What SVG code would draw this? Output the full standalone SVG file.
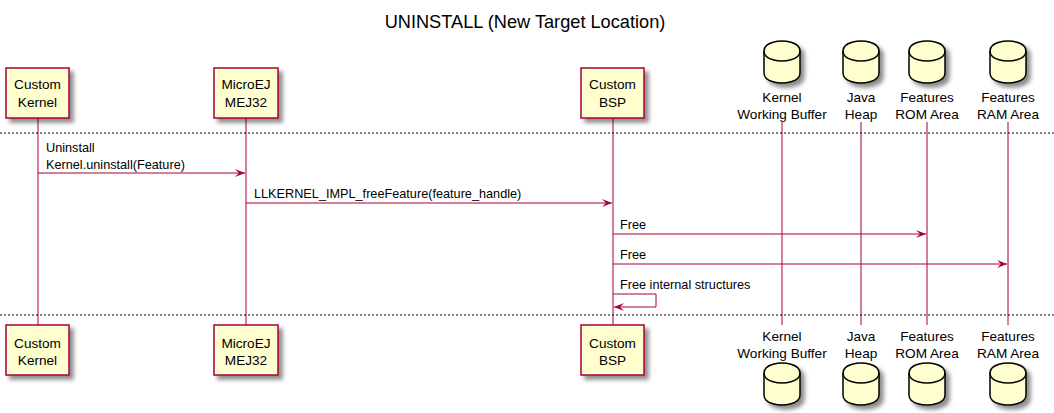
<svg xmlns="http://www.w3.org/2000/svg" width="1054" height="413" viewBox="0 0 1054 413">
<defs>
<filter id="sh" x="-20%" y="-20%" width="150%" height="150%">
<feGaussianBlur in="SourceAlpha" stdDeviation="2"/>
<feColorMatrix type="matrix" values="0 0 0 0 0  0 0 0 0 0  0 0 0 0 0  0 0 0 0.45 0"/>
<feOffset dx="4" dy="4" result="s"/>
<feMerge><feMergeNode in="s"/><feMergeNode in="SourceGraphic"/></feMerge>
</filter>
<marker id="ah" viewBox="0 0 10 8" refX="10" refY="4" markerWidth="10" markerHeight="8" markerUnits="userSpaceOnUse" orient="auto">
<polygon points="0,0 10,4 0,8 4,4" fill="#A80036"/>
</marker>
</defs>
<style>
text{font-family:"Liberation Sans",Arial,sans-serif;fill:#000}
.p{fill:#FEFECE;stroke:#A80036;stroke-width:1.5}
.db{fill:#FEFECE;stroke:#000;stroke-width:1.5}
.pt{font-size:13.6px;text-anchor:middle}
.ml{font-size:12.7px}
.life{stroke:#A80036;stroke-width:1}
.msg{stroke:#A80036;stroke-width:1;fill:none}
.sep{stroke:#000;stroke-width:1;stroke-dasharray:2,2}
</style>
<rect width="1054" height="413" fill="#fff"/>
<text x="525" y="28" style="font-size:18.2px;text-anchor:middle">UNINSTALL (New Target Location)</text>

<g id="lifelines">
<line class="life" x1="38" y1="118" x2="38" y2="325"/>
<line class="life" x1="246" y1="118" x2="246" y2="325"/>
<line class="life" x1="613" y1="118" x2="613" y2="325"/>
<line class="life" x1="782" y1="122" x2="782" y2="325"/>
<line class="life" x1="861" y1="122" x2="861" y2="325"/>
<line class="life" x1="927" y1="122" x2="927" y2="325"/>
<line class="life" x1="1008" y1="122" x2="1008" y2="325"/>
</g>

<g id="separators">
<line class="sep" x1="0" y1="133" x2="1054" y2="133"/>
<line class="sep" x1="0" y1="315" x2="1054" y2="315"/>
</g>

<g id="custom-kernel">
<rect class="p" x="6" y="68" width="63" height="50" filter="url(#sh)"/>
<text class="pt" x="37.5" y="89">Custom</text><text class="pt" x="37.5" y="107">Kernel</text>
<rect class="p" x="6" y="325" width="63" height="50" filter="url(#sh)"/>
<text class="pt" x="37.5" y="348">Custom</text><text class="pt" x="37.5" y="365">Kernel</text>
</g>

<g id="microej">
<rect class="p" x="214" y="68" width="64" height="50" filter="url(#sh)"/>
<text class="pt" x="246" y="89">MicroEJ</text><text class="pt" x="246" y="107">MEJ32</text>
<rect class="p" x="214" y="325" width="64" height="50" filter="url(#sh)"/>
<text class="pt" x="246" y="348">MicroEJ</text><text class="pt" x="246" y="365">MEJ32</text>
</g>

<g id="custom-bsp">
<rect class="p" x="581" y="68" width="63" height="50" filter="url(#sh)"/>
<text class="pt" x="612.5" y="89">Custom</text><text class="pt" x="612.5" y="107">BSP</text>
<rect class="p" x="581" y="325" width="63" height="50" filter="url(#sh)"/>
<text class="pt" x="612.5" y="348">Custom</text><text class="pt" x="612.5" y="365">BSP</text>
</g>

<g id="kernel-working-buffer">
<path class="db" filter="url(#sh)" d="M764,51 C764,41 782,41 782,41 C782,41 800,41 800,51 L800,73 C800,83 782,83 782,83 C782,83 764,83 764,73 Z"/>
<path class="db" d="M764,51 C764,61 782,61 782,61 C782,61 800,61 800,51" style="fill:none"/>
<text class="pt" x="782" y="102">Kernel</text><text class="pt" x="782" y="119">Working Buffer</text>
<text class="pt" x="782" y="341">Kernel</text><text class="pt" x="782" y="358">Working Buffer</text>
<path class="db" filter="url(#sh)" d="M764,373 C764,363 782,363 782,363 C782,363 800,363 800,373 L800,395 C800,405 782,405 782,405 C782,405 764,405 764,395 Z"/>
<path class="db" d="M764,373 C764,383 782,383 782,383 C782,383 800,383 800,373" style="fill:none"/>
</g>

<g id="java-heap">
<path class="db" filter="url(#sh)" d="M843,51 C843,41 861,41 861,41 C861,41 879,41 879,51 L879,73 C879,83 861,83 861,83 C861,83 843,83 843,73 Z"/>
<path class="db" d="M843,51 C843,61 861,61 861,61 C861,61 879,61 879,51" style="fill:none"/>
<text class="pt" x="861" y="102">Java</text><text class="pt" x="861" y="119">Heap</text>
<text class="pt" x="861" y="341">Java</text><text class="pt" x="861" y="358">Heap</text>
<path class="db" filter="url(#sh)" d="M843,373 C843,363 861,363 861,363 C861,363 879,363 879,373 L879,395 C879,405 861,405 861,405 C861,405 843,405 843,395 Z"/>
<path class="db" d="M843,373 C843,383 861,383 861,383 C861,383 879,383 879,373" style="fill:none"/>
</g>

<g id="features-rom-area">
<path class="db" filter="url(#sh)" d="M909,51 C909,41 927,41 927,41 C927,41 945,41 945,51 L945,73 C945,83 927,83 927,83 C927,83 909,83 909,73 Z"/>
<path class="db" d="M909,51 C909,61 927,61 927,61 C927,61 945,61 945,51" style="fill:none"/>
<text class="pt" x="927" y="102">Features</text><text class="pt" x="927" y="119">ROM Area</text>
<text class="pt" x="927" y="341">Features</text><text class="pt" x="927" y="358">ROM Area</text>
<path class="db" filter="url(#sh)" d="M909,373 C909,363 927,363 927,363 C927,363 945,363 945,373 L945,395 C945,405 927,405 927,405 C927,405 909,405 909,395 Z"/>
<path class="db" d="M909,373 C909,383 927,383 927,383 C927,383 945,383 945,373" style="fill:none"/>
</g>

<g id="features-ram-area">
<path class="db" filter="url(#sh)" d="M990,51 C990,41 1008,41 1008,41 C1008,41 1026,41 1026,51 L1026,73 C1026,83 1008,83 1008,83 C1008,83 990,83 990,73 Z"/>
<path class="db" d="M990,51 C990,61 1008,61 1008,61 C1008,61 1026,61 1026,51" style="fill:none"/>
<text class="pt" x="1008" y="102">Features</text><text class="pt" x="1008" y="119">RAM Area</text>
<text class="pt" x="1008" y="341">Features</text><text class="pt" x="1008" y="358">RAM Area</text>
<path class="db" filter="url(#sh)" d="M990,373 C990,363 1008,363 1008,363 C1008,363 1026,363 1026,373 L1026,395 C1026,405 1008,405 1008,405 C1008,405 990,405 990,395 Z"/>
<path class="db" d="M990,373 C990,383 1008,383 1008,383 C1008,383 1026,383 1026,373" style="fill:none"/>
</g>

<g id="connectors">
<line class="msg" x1="38" y1="173" x2="245" y2="173" marker-end="url(#ah)"/>
<text class="ml" x="46" y="152">Uninstall</text>
<text class="ml" x="46" y="169">Kernel.uninstall(Feature)</text>
<line class="msg" x1="246" y1="203" x2="612" y2="203" marker-end="url(#ah)"/>
<text class="ml" x="254" y="198">LLKERNEL_IMPL_freeFeature(feature_handle)</text>
<line class="msg" x1="613" y1="234" x2="926" y2="234" marker-end="url(#ah)"/>
<text class="ml" x="620" y="229">Free</text>
<line class="msg" x1="613" y1="264" x2="1007" y2="264" marker-end="url(#ah)"/>
<text class="ml" x="620" y="259">Free</text>
<polyline class="msg" points="613,294 656,294 656,307 614,307" marker-end="url(#ah)"/>
<text class="ml" x="620" y="289">Free internal structures</text>
</g>
</svg>
